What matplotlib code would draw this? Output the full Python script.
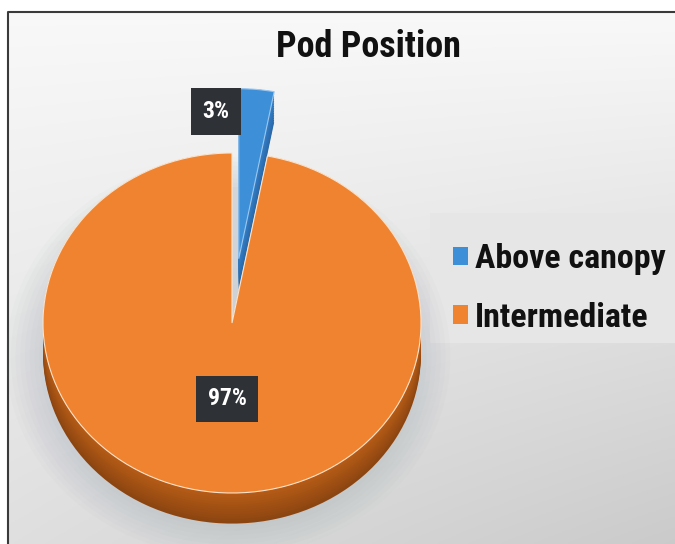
import numpy as np
import matplotlib
matplotlib.use('Agg')
from matplotlib import pyplot as plt
from matplotlib.patches import Rectangle, Ellipse
from matplotlib.colors import to_rgb

labels = ['Above canopy', 'Intermediate']
values = [3, 97]
top_colors = ['#3d8fd8', '#f0832f']
side_colors = ['#2a68a8', '#8c4510']
side_light = ['#3580c8', '#b85d17']

plt.rcParams['font.family'] = ['Roboto Condensed', 'DejaVu Sans']

W, H = 675, 544
fig = plt.figure(figsize=(W / 100, H / 100), dpi=100)

# background: white page, grey gradient panel with a frame on left/top
bg = fig.add_axes([0, 0, 1, 1])
bg.set_xlim(0, W)
bg.set_ylim(H, 0)
bg.axis('off')
ys, xs = np.mgrid[0:1:200j, 0:1:200j]
shade = 0.975 - 0.10 * ys - 0.08 * xs * ys
bg.imshow(np.dstack([shade] * 3), extent=[8, W, H, 12], aspect='auto', zorder=0)
bg.plot([8, 8, W], [H, 12, 12], color='#3a3a3a', lw=1.5, zorder=1)
bg.add_patch(Rectangle((430, 213), W - 430, 130, fc='#e6e6e6', ec='none', zorder=1))

# pie axes: one unit = 189 px across, 170 px down -> flattened 3d look
cx, cy, rx, ry = 232, 323, 189, 170
ax = fig.add_axes([0, 0, 1, 1])
ax.axis('off')

# soft shadow under the disc
for i in range(8):
    ax.add_patch(Ellipse((-0.02, -0.2), 2.0 + 0.05 * i, 2.0 + 0.05 * i,
                         fc='#9aa4b0', ec='none', alpha=0.04, zorder=1))

explode = [0.38, 0]
depth = 0.18
n = 14
for k in range(n):
    t = k / (n - 1)
    cols = [tuple((1 - t) * np.array(to_rgb(a)) + t * np.array(to_rgb(b)))
            for a, b in zip(side_colors, side_light)]
    wedges, _ = ax.pie(values, colors=cols, startangle=90, counterclock=False,
                       explode=explode, center=(0, -depth * (1 - t)), radius=1,
                       wedgeprops=dict(linewidth=0))
    for w in wedges:
        w.set_zorder(2)

wedges, _ = ax.pie(values, colors=top_colors, startangle=90, counterclock=False,
                   explode=explode, center=(0, 0), radius=1,
                   wedgeprops=dict(linewidth=0.8, edgecolor='#fbe3cc'))
for w in wedges:
    w.set_zorder(3)
wedges[0].set_edgecolor('#9cc8f0')

ax.set_aspect('auto')
ax.set_xlim(-cx / rx, (W - cx) / rx)
ax.set_ylim(-(H - cy) / ry, cy / ry)

# value labels in dark boxes
label_pos = [(-0.085, 1.245), (-0.026, -0.447)]
for v, (x, y) in zip(values, label_pos):
    ax.text(x, y, f'{v}%', color='white', fontsize=17, fontweight='bold',
            ha='center', va='center', zorder=5,
            bbox=dict(boxstyle='square,pad=0.5', fc='#2e3236', ec='none'))

fig.text(368 / W, 1 - 47 / H, 'Pod Position', fontsize=26, fontweight='bold',
         color='#111111', ha='center', va='center')

leg = fig.legend(wedges, labels, loc='upper left',
                 bbox_to_anchor=(436 / W, 1 - 226 / H), frameon=False,
                 fontsize=24.5, handlelength=0.45, handleheight=0.45,
                 handletextpad=0.2, labelspacing=0.78, borderpad=0)
for t in leg.get_texts():
    t.set_fontweight('bold')
    t.set_color('#111111')
for h in leg.legend_handles:
    h.set_linewidth(0)

fig.savefig('out.png', dpi=100)
